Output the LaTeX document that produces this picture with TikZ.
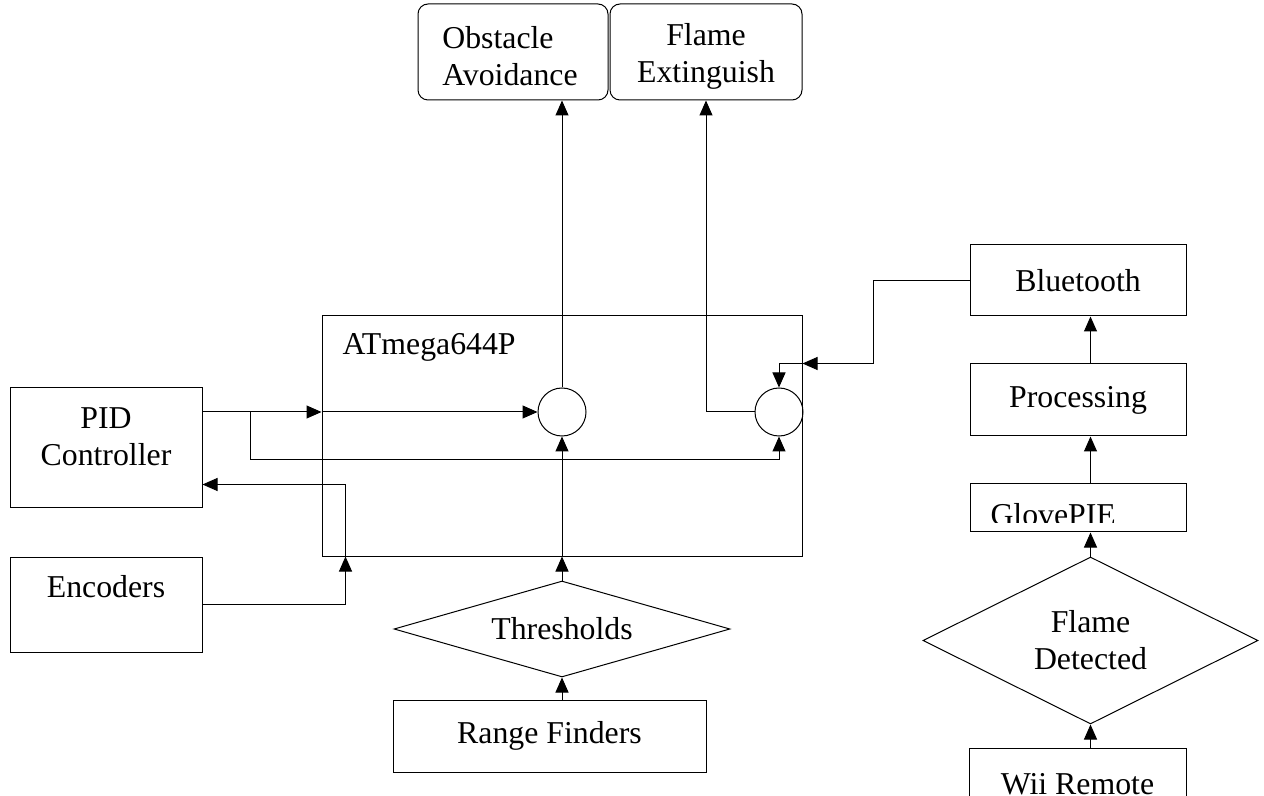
\documentclass[tikz,border=0pt]{standalone}
\usepackage{fontspec}
\setmainfont{Liberation Serif}
\usetikzlibrary{shapes.geometric, arrows.meta, calc}
\tikzset{>={Triangle[length=7.5pt,width=6.5pt]}}
\tikzset{
  blk/.style={draw, rectangle, inner sep=0pt},
  rblk/.style={blk, rounded corners=5pt},
  dec/.style={draw, diamond, inner sep=0pt},
  sum/.style={draw, circle, inner sep=0pt, minimum size=24pt},
  txt/.style={inner sep=0pt, align=center}
}

\begin{document}
\begin{tikzpicture}[x=0.5pt, y=-0.5pt, line width=0.5pt, font=\fontsize{15.9}{18.5}\selectfont]
    \useasboundingbox (0,0) rectangle (1264,796);
    % outputs
    \node[rblk, minimum width=95pt, minimum height=48pt] (obst) at (513,52) {};
    \node[txt, align=left] (obsttxt) at (510,56.5) {Obstacle\\Avoidance};
    \node[rblk, minimum width=96pt, minimum height=48pt] (fext) at (706,52) {};
    \node[txt] (fexttxt) at (706,56.5) {Flame\\Extinguish};
    % micro-controller
    \node[blk, minimum width=240pt, minimum height=120pt] (mcu) at (562,436) {};
    \node[txt, anchor=west] (mcutxt) at (342,347) {ATmega644P};
    \node[sum] (c1) at (562,412) {};
    \node[sum] (c2) at (779,412) {};
    % left side
    \node[blk, minimum width=96pt, minimum height=60pt] (pid) at (106,448) {};
    \node[txt] (pidtxt) at (106,437) {PID\\Controller};
    \node[blk, minimum width=96pt, minimum height=47.5pt] (enc) at (106,604.5) {};
    \node[txt] (enctxt) at (106,587) {Encoders};
    % bottom
    \node[dec, aspect=3.5, minimum width=168pt, minimum height=48pt] (thr) at (562,629) {Thresholds};
    \node[blk, minimum width=156.5pt, minimum height=36pt] (rf) at (549.5,736) {Range Finders};
    % right side
    \node[blk, minimum width=108pt, minimum height=35.5pt] (bt) at (1078,280.5) {Bluetooth};
    \node[blk, minimum width=108pt, minimum height=36pt] (proc) at (1078,400) {Processing};
    \node[blk, minimum width=108pt, minimum height=24pt] (glove) at (1078,508) {};
    \begin{scope}
        \clip (glove.north west) rectangle ($(glove.south east)+(0,-10)$);
        \node[txt, anchor=base west] (glovetxt) at (990,525) {GlovePIE};
    \end{scope}
    \node[dec, aspect=2, minimum width=167.5pt, minimum height=83.5pt, align=center] (fdet) at (1090.5,640.5) {Flame\\Detected};
    \node[blk, minimum width=108.5pt, minimum height=36pt] (wii) at (1077.5,784) {Wii Remote};

    % wires
    \draw[->] (c1.north) -- (c1.north |- obst.south);
    \draw[->] (c2.west) -| (fext.south);
    \coordinate (split) at ($(pid.east |- c1)+(48,0)$);
    \draw (pid.east |- c1) -- (split);
    \draw[->] (split) -- (mcu.west |- c1);
    \draw[->] (mcu.west |- c1) -- (c1.west);
    \draw[->] (split) -- ++(0,48) -| (c2.south);
    \coordinate (fb) at ($(mcu.south west)+(24,0)$);
    \coordinate (fbtop) at ($(fb)+(0,-72)$);
    \draw[->] (enc.east) -| (fb);
    \draw[->] (fb) -- (fbtop) -- (fbtop -| pid.east);
    \draw[->] (thr.north) -- (thr.north |- mcu.south);
    \draw[->] (thr.north |- mcu.south) -- (c1.south);
    \draw[->] (thr.south |- rf.north) -- (thr.south);
    \coordinate (btin) at ($(mcu.east |- c2.north)+(0,-24)$);
    \draw[->] (bt.west) -- ++(-96,0) |- (btin);
    \draw[->] (btin) -| (c2.north);
    \draw[->] (proc.north -| fdet.north) -- (bt.south -| fdet.north);
    \draw[->] (glove.north -| fdet.north) -- (proc.south -| fdet.north);
    \draw[->] (fdet.north) -- (glove.south -| fdet.north);
    \draw[->] (wii.north -| fdet.north) -- (fdet.south);
\end{tikzpicture}
\end{document}
